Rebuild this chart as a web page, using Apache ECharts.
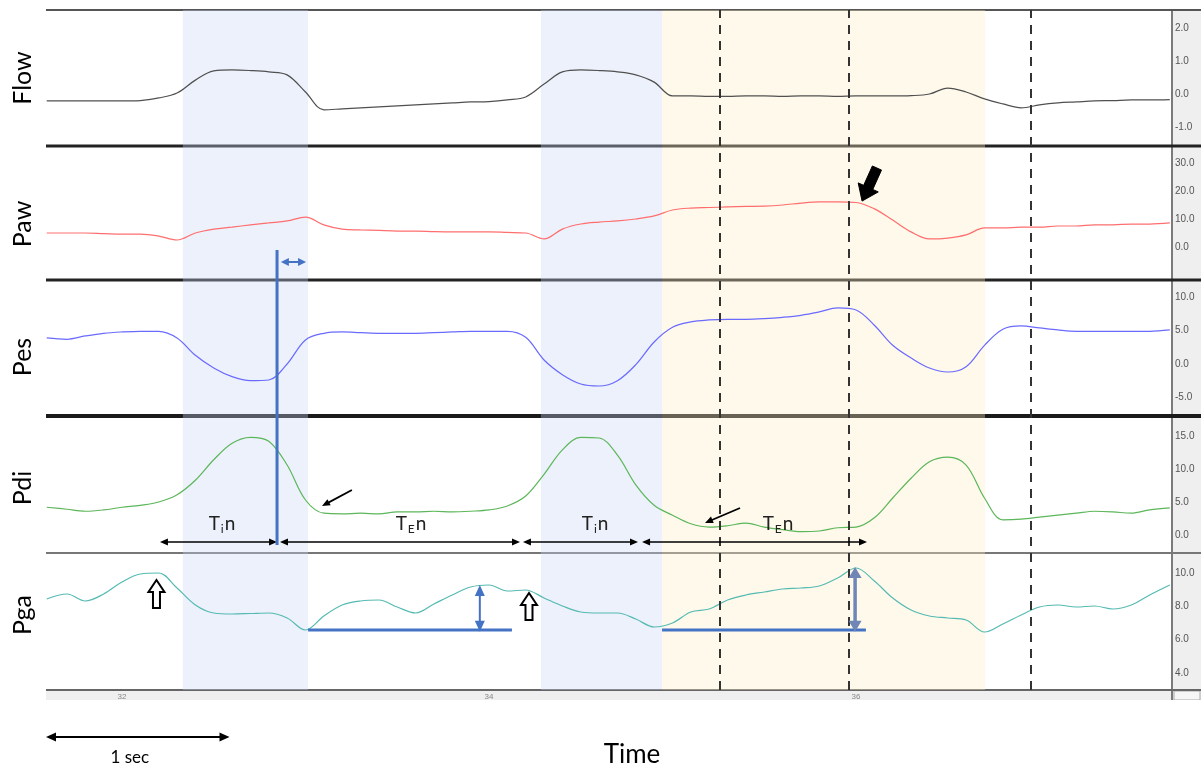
<!DOCTYPE html>
<html>
<head>
<meta charset="utf-8">
<script src="https://cdn.jsdelivr.net/npm/echarts@6/dist/echarts.min.js"></script>
<style>
  html, body { margin: 0; padding: 0; background: #fff; }
  #chart { width: 1201px; height: 769px; }
</style>
</head>
<body>
<div id="chart"></div>
<script>
// ---- Recorded signals (seconds, channel units) ----
const timeSec = [31.59, 31.7, 31.8, 31.9, 32.0, 32.1, 32.2, 32.3, 32.4, 32.5, 32.6, 32.7, 32.8, 32.9, 33.0,
  33.1, 33.2, 33.3, 33.4, 33.5, 33.6, 33.7, 33.8, 33.9, 34.0, 34.1, 34.2, 34.3, 34.4, 34.5, 34.6, 34.7, 34.8,
  34.9, 35.0, 35.1, 35.2, 35.3, 35.4, 35.5, 35.6, 35.7, 35.8, 35.9, 36.0, 36.1, 36.2, 36.3, 36.4, 36.5, 36.6,
  36.7, 36.8, 36.9, 37.0, 37.1, 37.2, 37.3, 37.4, 37.5, 37.6, 37.71];

const flow = [-0.21, -0.21, -0.21, -0.21, -0.21, -0.20, -0.12, 0.03, 0.42, 0.70, 0.73, 0.71, 0.67, 0.58, 0.06,
  -0.48, -0.45, -0.42, -0.39, -0.36, -0.33, -0.30, -0.27, -0.24, -0.23, -0.18, -0.09, 0.30, 0.67, 0.73, 0.71,
  0.67, 0.58, 0.36, -0.06, -0.06, -0.07, -0.07, -0.06, -0.06, -0.07, -0.06, -0.06, -0.07, -0.06, -0.06, -0.06,
  -0.05, 0.00, 0.18, 0.06, -0.15, -0.30, -0.42, -0.33, -0.27, -0.24, -0.21, -0.20, -0.18, -0.18, -0.17];

const paw = [5.0, 5.0, 5.0, 4.8, 4.6, 4.6, 3.9, 2.5, 5.0, 6.4, 7.1, 7.9, 8.6, 9.3, 10.7,
  7.9, 6.4, 6.1, 5.9, 5.7, 5.7, 5.5, 5.4, 5.4, 5.4, 5.2, 5.0, 2.9, 6.4, 8.2, 8.9, 9.3, 10.0,
  11.1, 13.2, 13.9, 14.1, 14.3, 14.5, 14.6, 15.0, 15.7, 16.1, 16.1, 15.9, 13.6, 9.6, 5.4, 2.9, 3.2, 4.3,
  6.8, 6.8, 7.1, 7.1, 7.5, 7.5, 7.9, 7.9, 8.2, 8.2, 8.6];

const pes = [3.9, 3.7, 4.2, 4.6, 4.8, 4.9, 4.9, 3.9, 1.3, -0.6, -1.9, -2.5, -2.4, 0.0, 3.6,
  4.6, 4.8, 4.7, 4.6, 4.6, 4.6, 4.7, 4.8, 4.9, 4.9, 4.9, 4.0, 0.6, -1.6, -3.0, -3.3, -2.5, -0.1,
  3.3, 5.5, 6.3, 6.6, 6.7, 6.7, 6.8, 7.0, 7.3, 7.8, 8.4, 8.1, 5.8, 2.8, 0.9, -0.6, -1.2, -0.4,
  2.8, 5.2, 5.7, 5.4, 5.1, 4.9, 4.9, 4.9, 4.9, 4.9, 5.1];

const pdi = [4.2, 3.9, 3.6, 3.8, 4.2, 4.5, 5.0, 6.1, 8.3, 11.4, 13.9, 14.8, 14.2, 10.6, 5.3,
  3.3, 3.2, 3.3, 3.2, 3.5, 3.5, 3.6, 3.5, 3.6, 3.8, 4.4, 5.9, 9.2, 12.9, 14.8, 14.7, 12.1, 7.6,
  4.5, 3.0, 1.7, 1.2, 1.4, 1.8, 1.2, 0.8, 0.5, 0.6, 1.1, 1.2, 2.6, 5.6, 8.6, 11.1, 11.8, 10.6,
  5.6, 2.3, 2.4, 2.7, 3.0, 3.3, 3.6, 3.5, 3.3, 3.8, 4.1];

const pga = [8.44, 8.74, 8.32, 8.74, 9.46, 9.94, 10.0, 9.1, 8.08, 7.6, 7.54, 7.57, 7.6, 7.3, 6.58,
  7.42, 8.08, 8.32, 8.38, 7.96, 7.6, 8.14, 8.68, 9.16, 9.28, 8.92, 8.98, 8.5, 8.02, 7.66, 7.6, 7.6, 7.24,
  6.76, 7.0, 7.66, 7.84, 8.38, 8.68, 8.86, 9.04, 9.1, 9.22, 9.7, 10.3, 9.52, 8.5, 7.78, 7.42, 7.3, 7.18,
  6.46, 6.94, 7.48, 7.96, 8.08, 7.96, 8.02, 7.84, 8.08, 8.68, 9.28];

// ---- Axis ticks ----
const flowTicks = [-1, 0, 1, 2];
const pawTicks = [0, 10, 20, 30];
const pesTicks = [-5, 0, 5, 10];
const pdiTicks = [0, 5, 10, 15];
const pgaTicks = [4, 6, 8, 10];
const timeTicks = [32, 34, 36];

// ---- Event timing (s) ----
const inspBands = [[32.332, 33.014], [34.283, 34.943]];
const effortBand = [34.943, 36.703];
const cursorTimes = [35.259, 35.956, 36.954];
// T_I / T_E spans along the Pdi channel: [start, end, subscript, label time]
const timingSpans = [[32.207, 32.845, 'i', 32.545], [32.861, 34.169, 'E', 33.575],
                     [34.185, 34.812, 'i', 34.578], [34.834, 36.060, 'E', 35.575]];
const timingLevel = -1.06;   // Pdi units
const timingTextLevel = 1.7; // Pdi units
const pgaBaseline = 6.58;
const pgaRiseSpans = [[33.014, 34.125, 33.95, 9.28], [34.943, 36.054, 35.995, 10.36]];

const panelNames = ['Flow', 'Paw', 'Pes', 'Pdi', 'Pga'];
const channels = [flow, paw, pes, pdi, pga];
const channelTicks = [flowTicks, pawTicks, pesTicks, pdiTicks, pgaTicks];
const channelColors = ['#505050', '#ff6e6e', '#6a6aff', '#5cb65a', '#55bab2'];

// ---- Layout ----
const X0 = 31.586, X1 = 37.711;
const LEFT = 46, RIGHT = 31;
const panelTop = [10, 146, 280, 416, 553];
const panelBottom = [146, 280, 416, 553, 690];
const yRange = [[-1.576, 2.545], [-11.79, 36.07], [-7.80, 12.59], [-2.73, 18.03], [2.98, 11.2]];
const labelCenterY = [78, 224, 357, 488, 615];
const FONT = 'Lato, "Open Sans", sans-serif';

const grids = [], xAxes = [], yAxes = [], series = [];
for (let i = 0; i < 5; i++) {
  grids.push({ left: LEFT, right: RIGHT, top: panelTop[i], height: panelBottom[i] - panelTop[i] });
  xAxes.push({
    type: 'value', gridIndex: i, min: X0, max: X1, show: i === 4, z: 6,
    axisLine: { show: false }, axisTick: { show: false }, splitLine: { show: false },
    axisLabel: { customValues: timeTicks, fontSize: 8, color: '#888', margin: 3, fontFamily: 'Liberation Sans' }
  });
  yAxes.push({
    type: 'value', gridIndex: i, position: 'right', min: yRange[i][0], max: yRange[i][1], z: 6,
    axisLine: { show: false }, axisTick: { show: false }, splitLine: { show: false },
    axisLabel: {
      customValues: channelTicks[i], formatter: v => v.toFixed(1),
      fontSize: 10, color: '#555', margin: 5, fontFamily: 'Liberation Sans'
    }
  });
  series.push({
    name: panelNames[i], type: 'line', xAxisIndex: i, yAxisIndex: i, z: 4,
    data: timeSec.map((t, k) => [t, channels[i][k]]),
    showSymbol: false, smooth: 0.35, silent: true,
    lineStyle: { color: channelColors[i], width: 1.2 }
  });
}
// full-height overlay used for shaded phases and cursor lines
grids.push({ left: LEFT, right: RIGHT, top: 10, height: 680 });
xAxes.push({ type: 'value', gridIndex: 5, min: X0, max: X1, show: false });
yAxes.push({ type: 'value', gridIndex: 5, min: 0, max: 1, show: false });

const blueBand = 'rgba(200,214,242,0.34)';
const yellowBand = 'rgba(252,238,196,0.34)';
series.push({
  type: 'line', xAxisIndex: 5, yAxisIndex: 5, data: [], silent: true,
  markArea: {
    z: 3, silent: true,
    data: inspBands.map(b => [{ xAxis: b[0], itemStyle: { color: blueBand } }, { xAxis: b[1] }])
      .concat([[{ xAxis: effortBand[0], itemStyle: { color: yellowBand } }, { xAxis: effortBand[1] }]])
  }
});
series.push({
  type: 'line', xAxisIndex: 5, yAxisIndex: 5, data: [], silent: true,
  markLine: {
    z: 5, silent: true, symbol: ['none', 'none'], label: { show: false },
    lineStyle: { color: '#333', width: 2, type: [9, 7] },
    data: cursorTimes.map(t => ({ xAxis: t }))
  }
});

const chart = echarts.init(document.getElementById('chart'));
chart.setOption({ animation: false, grid: grids, xAxis: xAxes, yAxis: yAxes, series: series });

// ---- Drawing helpers ----
const px = (g, t, v) => chart.convertToPixel({ gridIndex: g }, [t, v]);
function head(tip, from, len, wid, color) {
  const dx = tip[0] - from[0], dy = tip[1] - from[1], L = Math.hypot(dx, dy);
  const ux = dx / L, uy = dy / L, bx = tip[0] - ux * len, by = tip[1] - uy * len;
  const nx = -uy * wid / 2, ny = ux * wid / 2;
  return { type: 'polygon', z: 10, shape: { points: [tip, [bx + nx, by + ny], [bx - nx, by - ny]] }, style: { fill: color } };
}
function arrow(a, b, color, width, o) {
  const dx = b[0] - a[0], dy = b[1] - a[1], L = Math.hypot(dx, dy), ux = dx / L, uy = dy / L;
  const s = o.start ? [a[0] + ux * o.len * 0.7, a[1] + uy * o.len * 0.7] : a;
  const e = o.end ? [b[0] - ux * o.len * 0.7, b[1] - uy * o.len * 0.7] : b;
  const els = [{ type: 'line', z: 10, shape: { x1: s[0], y1: s[1], x2: e[0], y2: e[1] }, style: { stroke: color, lineWidth: width } }];
  if (o.end) els.push(head(b, a, o.len, o.wid, color));
  if (o.start) els.push(head(a, b, o.len, o.wid, color));
  return els;
}
function blockArrow(tail, tip, shaftW, headW, headLen, fill, stroke, lw) {
  const dx = tip[0] - tail[0], dy = tip[1] - tail[1], L = Math.hypot(dx, dy);
  const ux = dx / L, uy = dy / L, nx = -uy, ny = ux;
  const bx = tip[0] - ux * headLen, by = tip[1] - uy * headLen;
  const p = (x, y, k) => [x + nx * k, y + ny * k];
  const pts = [p(tail[0], tail[1], shaftW / 2), p(bx, by, shaftW / 2), p(bx, by, headW / 2), tip,
               p(bx, by, -headW / 2), p(bx, by, -shaftW / 2), p(tail[0], tail[1], -shaftW / 2)];
  return { type: 'polygon', z: 10, shape: { points: pts }, style: { fill: fill, stroke: stroke, lineWidth: lw, lineJoin: 'miter' } };
}
function hline(y, x1, x2, color, w) {
  return { type: 'line', z: 2, shape: { x1: x1, y1: y, x2: x2, y2: y }, style: { stroke: color, lineWidth: w } };
}

const g = [];
// instrument frame: value strip on the right, time strip at the bottom
g.push({ type: 'rect', z: 1, shape: { x: 1171, y: 10, width: 30, height: 690 }, style: { fill: '#efefef' } });
g.push({ type: 'rect', z: 1, shape: { x: LEFT, y: 690, width: 1125, height: 10 }, style: { fill: '#efefef' } });
g.push({ type: 'line', z: 2, shape: { x1: 1172, y1: 10, x2: 1172, y2: 700 }, style: { stroke: '#555', lineWidth: 1.5 } });
g.push({ type: 'rect', z: 2, shape: { x: 1174, y: 691, width: 26, height: 9 }, style: { fill: '#f6f6f6', stroke: '#aaa', lineWidth: 1 } });
g.push(hline(10, LEFT, 1201, '#555', 2));
g.push(hline(146, LEFT, 1201, '#222', 3));
g.push(hline(280, LEFT, 1201, '#222', 3));
g.push(hline(416, LEFT, 1201, '#1a1a1a', 4));
g.push(hline(553, LEFT, 1201, '#777', 2));
g.push(hline(690, LEFT, 1201, '#666', 2));
g.push({ type: 'rect', z: 7, shape: { x: 0, y: 700, width: 1201, height: 20 }, style: { fill: '#fff' } });

// channel names
panelNames.forEach((name, i) => {
  g.push({ type: 'text', z: 10, x: 23, y: labelCenterY[i], rotation: Math.PI / 2,
    style: { text: name, font: '25px ' + FONT, fill: '#000', align: 'center', verticalAlign: 'middle' } });
});

// time scale bar and axis title
const sec0 = px(4, X0, 5)[0], sec1 = px(4, X0 + 1, 5)[0];
g.push(...arrow([sec0, 737], [sec1, 737], '#000', 2, { start: true, end: true, len: 10, wid: 9 }));
g.push({ type: 'text', z: 10, x: (sec0 + sec1) / 2 - 8, y: 758,
  style: { text: '1 sec', font: '17px ' + FONT, fill: '#000', align: 'center', verticalAlign: 'middle' } });
g.push({ type: 'text', z: 10, x: 632, y: 755,
  style: { text: 'Time', font: '26px ' + FONT, fill: '#000', align: 'center', verticalAlign: 'middle' } });

// T_I / T_E spans on the Pdi channel
timingSpans.forEach(s => {
  const a = px(3, s[0], timingLevel), b = px(3, s[1], timingLevel);
  g.push(...arrow(a, b, '#000', 1.6, { start: true, end: true, len: 8, wid: 7 }));
  const c = px(3, s[3], timingTextLevel);
  g.push({ type: 'text', z: 10, x: c[0], y: c[1],
    style: { text: '{m|T}{s|' + s[2] + '}{m|n}', align: 'center', verticalAlign: 'middle',
      rich: {
        m: { font: '19px ' + FONT, fill: '#222' },
        s: { font: '12px ' + FONT, fill: '#222', padding: [11, 1, 0, 1] }
      } } });
});

// neural inspiratory time marker crossing Paw → Pdi
const vTop = px(1, 32.845, -1.07), vBot = px(3, 32.845, -1.52);
g.push({ type: 'line', z: 11, shape: { x1: vTop[0], y1: vTop[1], x2: vBot[0], y2: vBot[1] }, style: { stroke: '#4472c4', lineWidth: 3 } });
g.push(...arrow(px(1, 32.866, -5.36), px(1, 33.003, -5.36), '#4472c4', 2, { start: true, end: true, len: 8, wid: 8 }));

// expiratory Pga rise
pgaRiseSpans.forEach((s, i) => {
  const a = px(4, s[0], pgaBaseline), b = px(4, s[1], pgaBaseline);
  g.push({ type: 'line', z: 10, shape: { x1: a[0], y1: a[1], x2: b[0], y2: b[1] }, style: { stroke: '#4472c4', lineWidth: 3 } });
  const col = i === 0 ? '#4472c4' : '#6f86b6';
  g.push(...arrow(px(4, s[2], pgaBaseline - 0.1), px(4, s[2], s[3]), col, i === 0 ? 2 : 3.5,
    { start: true, end: true, len: 11, wid: i === 0 ? 10 : 13 }));
});

// onset markers on Pga
[[32.188, 7.9, 9.58], [34.218, 7.18, 8.8]].forEach(m => {
  g.push(blockArrow(px(4, m[0], m[1]), px(4, m[0], m[2]), 7, 16, 12, '#fff', '#000', 2));
});

// pointers on Pdi
g.push(...arrow(px(3, 33.253, 6.82), px(3, 33.090, 4.39), '#000', 1.8, { end: true, len: 8, wid: 7 }));
g.push(...arrow(px(3, 35.368, 4.09), px(3, 35.177, 1.82), '#000', 1.8, { end: true, len: 8, wid: 7 }));

// end of neural effort on Paw
g.push(blockArrow(px(1, 36.114, 28.2), px(1, 36.033, 16.4), 10, 22, 15, '#000', '#000', 1));

chart.setOption({ graphic: { elements: g } });
</script>
</body>
</html>
